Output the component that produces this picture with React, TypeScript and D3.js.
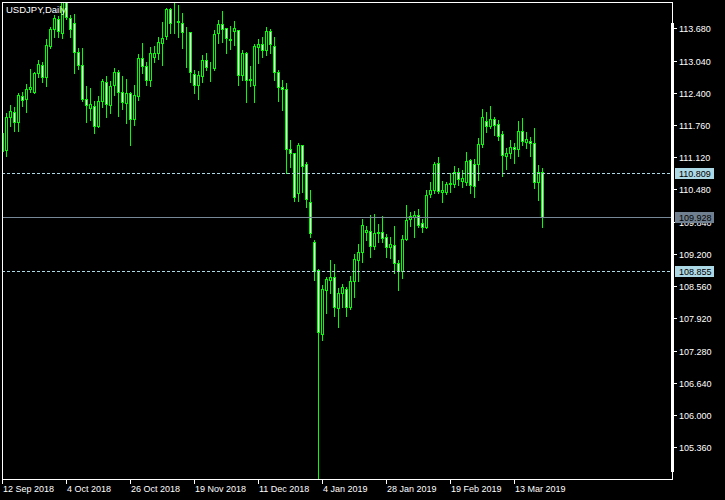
import React from 'react'
import * as d3 from 'd3'

const title = 'USDJPY,Daily'

const dateTickBars = [0, 16, 32, 48, 64, 80, 96, 112, 128]
const dateLabels = [
  '12 Sep 2018', '4 Oct 2018', '26 Oct 2018', '19 Nov 2018', '11 Dec 2018',
  '4 Jan 2019', '28 Jan 2019', '19 Feb 2019', '13 Mar 2019'
]

const priceTicks = [
  113.68, 113.04, 112.4, 111.76, 111.12, 110.48, 109.84,
  109.2, 108.56, 107.92, 107.28, 106.64, 106.0, 105.36
]

// daily bars, 12 Sep 2018 .. 22 Mar 2019
const open = [
  111.607, 111.263, 111.913, 112.012, 111.825, 112.342, 112.270, 112.481, 112.415, 112.786,
  112.951, 112.707, 113.335, 113.672, 113.859, 113.593, 114.450, 113.879, 113.791, 113.203,
  112.951, 112.270, 112.103, 112.137, 111.746, 112.242, 112.620, 112.157, 112.554, 112.806,
  112.421, 112.203, 112.389, 111.879, 112.336, 113.084, 112.931, 112.653, 113.116, 113.184,
  113.394, 113.527, 114.057, 113.811, 113.811, 113.791, 113.613, 113.613, 112.772, 112.554,
  112.733, 113.051, 112.931, 112.898, 113.581, 113.765, 113.680, 113.462, 113.632, 113.646,
  112.753, 113.196, 112.667, 112.554, 113.315, 113.368, 113.249, 113.626, 113.329, 112.818,
  112.508, 112.469, 111.277, 111.198, 110.403, 111.362, 110.985, 110.237, 109.430, 108.880,
  107.610, 108.483, 108.682, 108.736, 108.132, 108.418, 108.497, 108.152, 108.662, 109.079,
  109.232, 109.641, 109.661, 109.357, 109.609, 109.641, 109.530, 109.331, 109.371, 109.026,
  108.861, 109.496, 109.887, 109.927, 109.973, 109.820, 109.728, 110.389, 110.469, 110.999,
  110.423, 110.423, 110.598, 110.598, 110.832, 110.654, 110.634, 111.065, 110.985, 110.985,
  111.382, 111.845, 111.740, 111.873, 111.774, 111.575, 111.144, 111.198, 111.329, 111.277,
  111.641, 111.428, 111.442, 111.396, 110.622, 110.832
]
const high = [
  111.760, 111.992, 112.157, 112.111, 112.389, 112.421, 112.574, 112.866, 112.818, 113.051,
  113.017, 113.462, 113.700, 113.944, 113.924, 114.550, 114.550, 113.944, 113.964, 113.283,
  113.283, 112.534, 112.489, 112.242, 112.336, 112.673, 112.733, 112.633, 112.886, 112.852,
  112.733, 112.673, 112.421, 112.554, 113.170, 113.382, 113.017, 113.315, 113.329, 113.501,
  113.811, 114.077, 114.083, 114.188, 114.143, 113.990, 113.700, 113.613, 112.852, 112.838,
  113.150, 113.196, 113.017, 113.646, 113.845, 114.024, 113.680, 113.726, 113.825, 113.646,
  113.249, 113.216, 112.931, 113.368, 113.462, 113.501, 113.700, 113.660, 113.501, 112.852,
  112.653, 112.600, 111.462, 111.198, 111.408, 111.362, 111.031, 110.469, 109.476, 108.894,
  108.582, 108.748, 109.079, 108.999, 108.517, 108.603, 108.537, 108.762, 109.198, 109.397,
  109.887, 109.754, 109.973, 109.993, 109.794, 109.953, 109.596, 109.530, 109.754, 109.079,
  109.576, 110.171, 110.038, 110.058, 110.086, 109.887, 110.469, 110.634, 111.031, 111.130,
  110.654, 110.634, 110.800, 110.945, 110.899, 110.866, 111.230, 111.079, 111.079, 111.496,
  112.078, 112.012, 112.137, 111.913, 111.859, 111.641, 111.297, 111.462, 111.408, 111.839,
  111.893, 111.615, 111.516, 111.694, 110.965, 110.899
]
const low = [
  111.144, 111.144, 111.746, 111.647, 111.647, 112.137, 112.024, 112.421, 112.389, 112.707,
  112.620, 112.534, 113.283, 113.513, 113.501, 113.493, 113.859, 113.513, 112.798, 112.866,
  112.242, 111.825, 111.859, 111.607, 111.726, 112.123, 111.925, 111.992, 112.355, 111.945,
  112.072, 111.806, 111.362, 111.760, 112.256, 112.786, 112.554, 112.534, 113.017, 113.064,
  112.951, 113.462, 113.581, 113.581, 113.513, 113.283, 112.918, 112.620, 112.389, 112.276,
  112.620, 112.852, 112.640, 112.852, 113.394, 113.414, 113.184, 113.263, 113.348, 112.554,
  112.653, 112.222, 112.534, 112.222, 112.997, 113.116, 113.150, 113.196, 112.653, 112.242,
  112.058, 110.800, 110.919, 110.257, 110.257, 110.435, 110.138, 109.542, 108.682, 104.600,
  107.490, 108.020, 108.430, 107.967, 107.755, 108.140, 107.967, 108.100, 108.350, 108.668,
  109.045, 109.476, 109.139, 109.298, 109.443, 109.443, 109.145, 109.113, 108.815, 108.483,
  108.716, 109.476, 109.754, 109.542, 109.728, 109.641, 109.708, 110.324, 110.403, 110.403,
  110.237, 110.389, 110.435, 110.522, 110.568, 110.535, 110.568, 110.416, 110.336, 110.668,
  111.316, 111.627, 111.694, 111.561, 111.462, 110.753, 110.880, 111.098, 111.000, 111.144,
  111.362, 111.297, 111.150, 110.515, 110.270, 109.728
]
const close = [
  111.250, 111.913, 112.044, 111.825, 112.355, 112.256, 112.469, 112.508, 112.786, 112.971,
  112.707, 113.348, 113.660, 113.879, 113.632, 114.450, 113.899, 113.660, 113.215, 112.951,
  112.270, 112.157, 112.171, 111.746, 112.242, 112.633, 112.171, 112.534, 112.806, 112.421,
  112.211, 112.389, 111.873, 112.355, 113.084, 112.931, 112.653, 113.184, 113.184, 113.414,
  113.481, 114.057, 113.779, 113.805, 113.819, 113.601, 113.601, 112.818, 112.554, 112.753,
  113.051, 112.918, 112.925, 113.567, 113.765, 113.660, 113.481, 113.456, 113.680, 112.753,
  113.184, 112.653, 112.661, 113.329, 113.368, 113.249, 113.626, 113.368, 112.818, 112.508,
  112.469, 111.277, 111.198, 110.324, 111.362, 110.945, 110.284, 109.609, 108.867, 107.655,
  108.497, 108.696, 108.736, 108.152, 108.418, 108.537, 108.152, 108.662, 109.093, 109.232,
  109.774, 109.675, 109.357, 109.609, 109.641, 109.510, 109.331, 109.391, 109.026, 108.861,
  109.490, 109.873, 109.953, 109.973, 109.774, 109.740, 110.369, 110.469, 110.985, 110.455,
  110.469, 110.598, 110.614, 110.832, 110.681, 110.701, 111.039, 110.568, 110.555, 111.382,
  111.913, 111.740, 111.873, 111.760, 111.541, 111.164, 111.198, 111.329, 111.277, 111.647,
  111.448, 111.476, 111.396, 110.622, 110.832, 109.928
]

const dashedLevels = [110.809, 108.855]
const bidPrice = 109.928

const font = 'Liberation Sans, Arial, sans-serif'
const green = '#00ff00'

export default function App() {
  // plot frame (pixel rows / columns)
  const fl = 2, ft = 2, fr = 672, fb = 479

  const x = d3.scaleLinear().domain([0, 135]).range([2, 542])
  const y = d3.scaleLinear().domain([105.36, 113.68]).range([447.3, 28.3])
  const py = (v: number) => Math.round(y(v))

  const bars = d3.range(open.length).map(i => ({
    i, o: open[i], h: high[i], l: low[i], c: close[i]
  }))

  const fmt = d3.format('.3f')

  return (
    <div style={{ position: 'fixed', left: 0, top: 0, width: 725, height: 500, background: '#000' }}>
      <svg width={725} height={500} style={{ display: 'block' }}>
        <rect width={725} height={500} fill="#000" />
        <defs>
          <clipPath id="plot">
            <rect x={fl + 1} y={ft + 1} width={fr - fl - 1} height={fb - ft - 1} />
          </clipPath>
        </defs>

        <g clipPath="url(#plot)" shapeRendering="crispEdges">
          {bars.map(b => {
            const cx = Math.round(x(b.i))
            const top = py(Math.max(b.o, b.c))
            const bot = py(Math.min(b.o, b.c))
            const bull = b.c >= b.o
            return (
              <g key={b.i}>
                <line x1={cx + 0.5} x2={cx + 0.5} y1={py(b.h)} y2={py(b.l) + 1}
                  stroke={green} strokeWidth={1} />
                <rect x={cx - 0.5} y={top + 0.5} width={2} height={Math.max(bot - top, 0)}
                  fill={bull ? '#000' : '#fff'} stroke={green} strokeWidth={1} />
              </g>
            )
          })}

          {dashedLevels.map(v => (
            <line key={v} x1={fl} x2={fr} y1={py(v) + 0.5} y2={py(v) + 0.5}
              stroke="#add8e6" strokeWidth={1} strokeDasharray="3,2" />
          ))}
          <line x1={fl} x2={fr} y1={py(bidPrice) + 0.5} y2={py(bidPrice) + 0.5}
            stroke="#778899" strokeWidth={1} />
        </g>

        {/* frame */}
        <g shapeRendering="crispEdges">
          <rect x={fl + 0.5} y={ft + 0.5} width={fr - fl} height={fb - ft}
            fill="none" stroke="#fff" strokeWidth={1} />
          <rect x={fr - 1} y={23} width={3} height={449} fill="#fff" />
        </g>

        {/* price scale */}
        <g fontFamily={font} fontSize={9} fill="#fff">
          {priceTicks.map(v => (
            <g key={v}>
              <line x1={fr + 1} x2={fr + 5} y1={py(v) + 0.5} y2={py(v) + 0.5}
                stroke="#fff" shapeRendering="crispEdges" />
              <text x={fr + 7} y={py(v) + 4}>{fmt(v)}</text>
            </g>
          ))}
        </g>

        {/* level labels */}
        <g fontFamily={font} fontSize={9}>
          {dashedLevels.map(v => (
            <g key={v}>
              <rect x={675} y={py(v) - 5} width={39} height={11} fill="#add8e6" />
              <text x={679} y={py(v) + 4} fill="#000">{fmt(v)}</text>
            </g>
          ))}
          <rect x={675} y={py(bidPrice) - 5} width={39} height={11} fill="#708090" />
          <text x={679} y={py(bidPrice) + 4} fill="#000">{fmt(bidPrice)}</text>
        </g>

        {/* time scale */}
        <g fontFamily={font} fontSize={9} fill="#fff">
          {dateTickBars.map((b, k) => {
            const tx = Math.round(x(b))
            return (
              <g key={b}>
                <line x1={tx + 0.5} x2={tx + 0.5} y1={fb + 1} y2={fb + 5}
                  stroke="#fff" shapeRendering="crispEdges" />
                <text x={tx + 1} y={492}>{dateLabels[k]}</text>
              </g>
            )
          })}
        </g>

        <text x={6} y={13} fontFamily={font} fontSize={9.5} fill="#fff">{title}</text>
      </svg>
    </div>
  )
}
